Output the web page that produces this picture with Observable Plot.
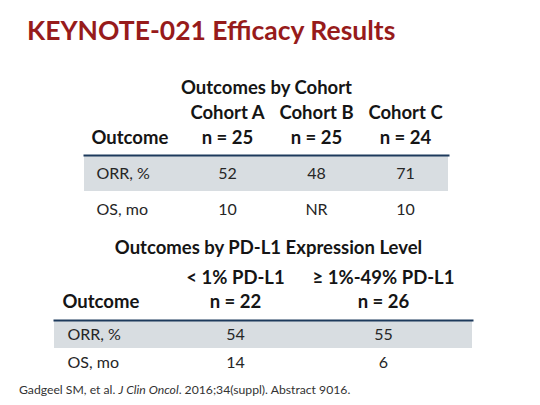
<!DOCTYPE html>
<html>
<head>
<meta charset="utf-8">
<script src="https://cdn.jsdelivr.net/npm/d3@7"></script>
<script src="https://cdn.jsdelivr.net/npm/@observablehq/plot@0.6"></script>
<style>
  body { margin: 0; background: #fff; font-family: Lato, "Open Sans", sans-serif; }
  #slide { position: relative; width: 540px; height: 405px; overflow: hidden; }
  #title { position: absolute; left: 27px; top: 14px; font-size: 26.5px; font-weight: 700; color: #971b1b; line-height: 32px; white-space: nowrap; }
  #t1 { position: absolute; left: 0; top: 60px; }
  #t2 { position: absolute; left: 0; top: 230px; }
  #note { position: absolute; left: 19px; top: 382px; font-size: 12.2px; color: #333; white-space: nowrap; }
</style>
</head>
<body>
<div id="slide">
  <div id="title">KEYNOTE-021 Efficacy Results</div>
  <div id="t1"></div>
  <div id="t2"></div>
  <div id="note">Gadgeel SM, et al. <i>J Clin Oncol</i>. 2016;34(suppl). Abstract 9016.</div>
</div>
<script>
const outcomes = ["ORR, %", "OS, mo"];
const cohorts = ["Cohort A", "Cohort B", "Cohort C"];
const cohortN = [25, 25, 24];
const cohortORR = ["52", "48", "71"];
const cohortOS = ["10", "NR", "10"];
const pdl1Groups = ["< 1% PD-L1", "≥ 1%-49% PD-L1"];
const pdl1N = [22, 26];
const pdl1ORR = ["54", "55"];
const pdl1OS = ["14", "6"];

// one small table = one plot; columns on a point scale, rows on a band scale
function table(el, o) {
  const cells = o.cols.flatMap((c, i) => [
    {col: c, row: outcomes[0], value: o.orr[i]},
    {col: c, row: outcomes[1], value: o.os[i]}
  ]);
  const head = {fontSize: 18.5, fontWeight: "bold", fill: "#151515", frameAnchor: "top", lineAnchor: "middle"};
  const chart = Plot.plot({
    width: 540, height: o.height,
    marginTop: o.top, marginBottom: o.bottom, marginLeft: o.left, marginRight: o.right,
    style: {fontFamily: "Lato, sans-serif", fontSize: "16px", color: "#262626", overflow: "visible", background: "transparent"},
    x: {type: "point", domain: o.cols, range: o.colRange, padding: 0, axis: null},
    y: {type: "band", domain: outcomes, range: o.rowRange, padding: 0, axis: null},
    marks: [
      Plot.cell(outcomes.filter((d, i) => i % 2 === 0), {y: d => d, fill: "#d8dde1"}),
      Plot.frame({anchor: "top", stroke: "#1d3a5c", strokeWidth: 2}),
      Plot.text([o.heading], {...head, dx: o.dxHeading, dy: o.dyHeading}),
      Plot.text(o.cols, {...head, x: d => d, dy: o.dyCols}),
      Plot.text(o.n, {...head, x: (d, i) => o.cols[i], text: d => `n = ${d}`, dy: o.dyN}),
      Plot.text(["Outcome"], {...head, frameAnchor: "top-left", textAnchor: "start", dx: o.dxLabel, dy: o.dyN}),
      Plot.text(outcomes, {y: d => d, frameAnchor: "left", textAnchor: "start", dx: o.dxRow}),
      Plot.text(cells, {x: "col", y: "row", text: "value"})
    ]
  });
  document.getElementById(el).appendChild(chart);
}

table("t1", {
  heading: "Outcomes by Cohort", cols: cohorts, n: cohortN, orr: cohortORR, os: cohortOS,
  height: 170, top: 95, bottom: 3, left: 84, right: 92,
  colRange: [226, 405], rowRange: [95, 167],
  dxHeading: 0, dyHeading: -67, dyCols: -42, dyN: -17, dxLabel: 7, dxRow: 12
});

table("t2", {
  heading: "Outcomes by PD-L1 Expression Level", cols: pdl1Groups, n: pdl1N, orr: pdl1ORR, os: pdl1OS,
  height: 148, top: 90, bottom: 2, left: 54, right: 68,
  colRange: [235, 383], rowRange: [90, 146],
  dxHeading: 5, dyHeading: -72, dyCols: -42.5, dyN: -18, dxLabel: 8, dxRow: 13
});
</script>
</body>
</html>
